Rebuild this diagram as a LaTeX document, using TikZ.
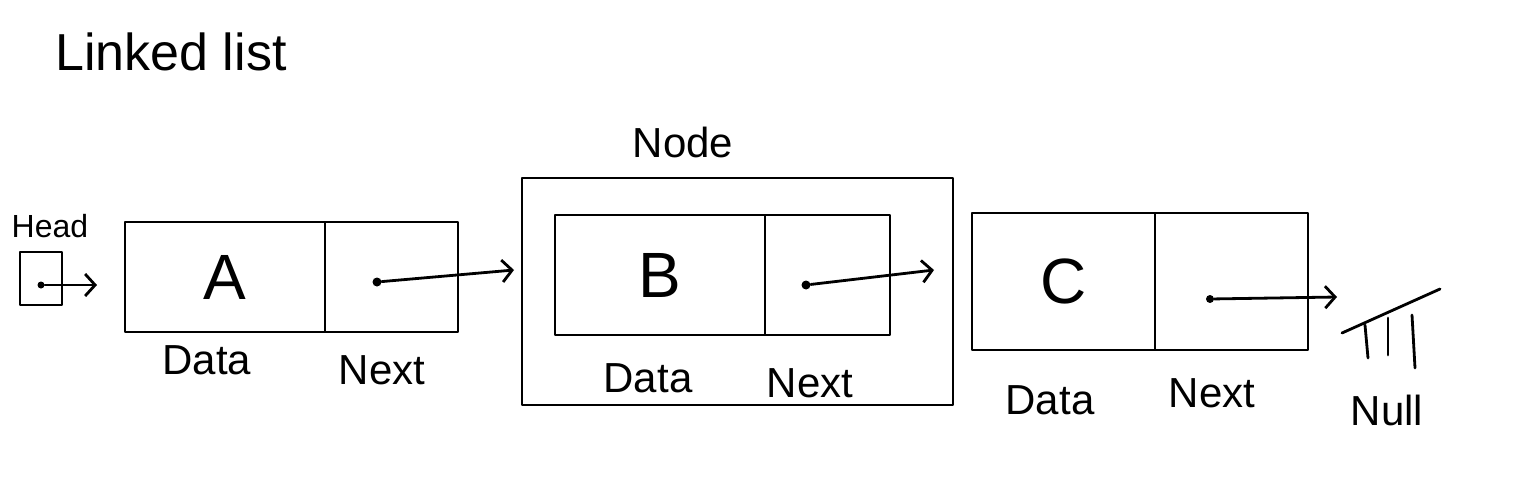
\documentclass[tikz,border=0pt]{standalone}
\usepackage{fontspec}
\setmainfont{Liberation Sans}
\usetikzlibrary{arrows.meta}
\begin{document}
\begin{tikzpicture}[x=0.5pt,y=-0.5pt,
  ink/.style={line width=1.4pt, line cap=round, line join=round},
  cell/.style={ink, draw, inner sep=0pt, outer sep=0pt, anchor=north west, font=\fontsize{32}{36}\selectfont},
  lbl/.style={font=\fontsize{21}{24}\selectfont, inner sep=0pt},
  ptr/.style={ink, -{Straight Barb[length=5pt,width=11pt,line width=1.4pt]}},
  dotc/.style={circle, fill=black, inner sep=0pt, minimum size=4.5pt}]
\useasboundingbox (0,0) rectangle (1536,482);
\fill[white] (0,0) rectangle (1536,482);

% title
\node[font=\fontsize{26}{30}\selectfont, anchor=west, inner sep=0pt] (title) at (55,52) {Linked list};

% head
\node[lbl, font=\fontsize{16}{18}\selectfont] (headlbl) at (50,226) {Head};
\node[cell, minimum width=21pt, minimum height=26.5pt] (head) at (20,252) {};
\node[dotc, minimum size=3.5pt] (hdot) at (41,285) {};
\coordinate (hend) at (97,285);
\draw[ptr] (hdot) -- (hend);

% node A
\node[cell, minimum width=100pt, minimum height=55pt] (adata) at (125,222) {A};
\node[cell, minimum width=66.5pt, minimum height=55pt] (anext) at (325,222) {};
\node[dotc] (adot) at (377,282) {};
\node[lbl] (adl) at (207,360) {Data};
\node[lbl] (anl) at (382,370) {Next};

% outer Node box
\node[lbl] (nodelbl) at (683,142) {Node};
\node[cell, minimum width=215.5pt, minimum height=113.5pt] (outer) at (522,178) {};
\coordinate (aend) at (514,270);
\draw[ptr] (adot) -- (aend);

% node B
\node[cell, minimum width=105pt, minimum height=60pt] (bdata) at (555,215) {B};
\node[cell, minimum width=62.5pt, minimum height=60pt] (bnext) at (765,215) {};
\node[dotc] (bdot) at (806,285) {};
\coordinate (bend) at (934,270);
\draw[ptr] (bdot) -- (bend);
\node[lbl] (bdl) at (648,378) {Data};
\node[lbl] (bnl) at (810,383) {Next};

% node C
\node[cell, minimum width=91.5pt, minimum height=68.5pt] (cdata) at (972,213) {C};
\node[cell, minimum width=76.5pt, minimum height=68.5pt] (cnext) at (1155,213) {};
\node[dotc, minimum size=4pt] (cdot) at (1210,299) {};
\coordinate (cend) at (1337,297);
\draw[ptr] (cdot) -- (cend);
\node[lbl] (cdl) at (1050,400) {Data};
\node[lbl] (cnl) at (1212,393) {Next};

% null symbol
\coordinate (n1) at (1342,333);
\coordinate (n2) at (1440,289);
\draw[ink] (n1) -- (n2);
\draw[ink] (1365,325) -- (1368,358);
\draw[ink] (1388,318) -- (1388,355);
\draw[ink] (1412,315) -- (1415,368);
\node[lbl] (nulllbl) at (1387,410) {Null};
\end{tikzpicture}
\end{document}
